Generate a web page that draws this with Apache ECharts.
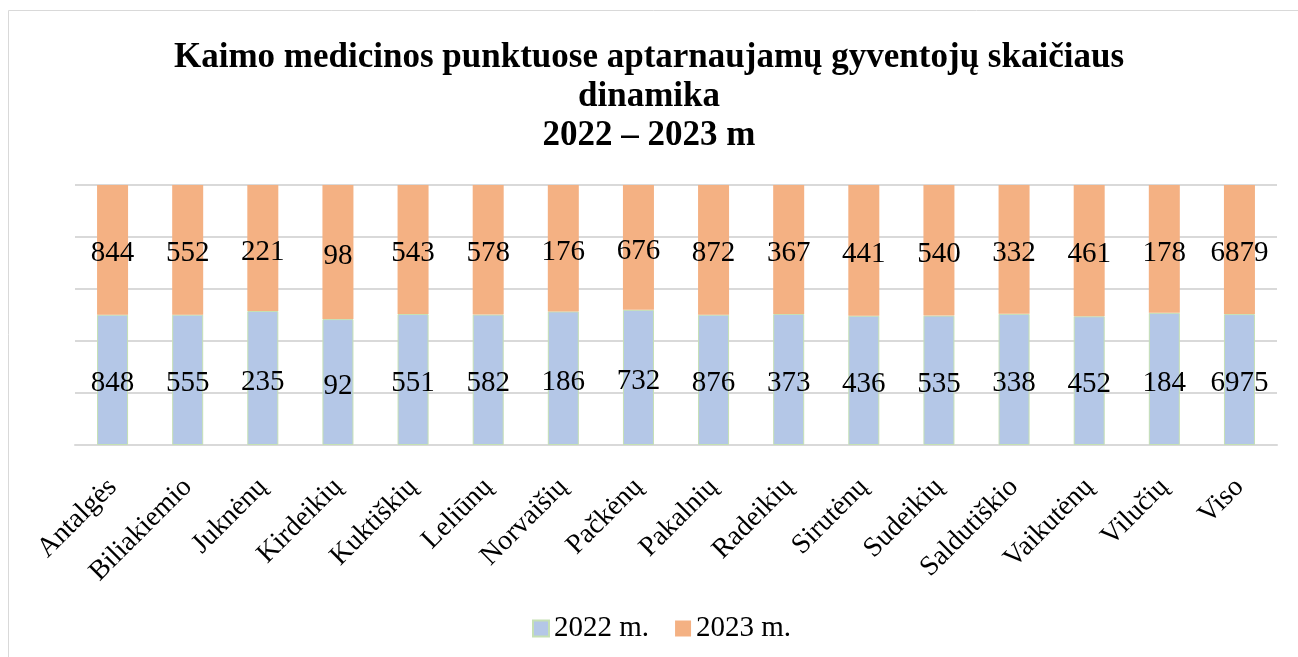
<!DOCTYPE html>
<html><head><meta charset="utf-8">
<script src="https://cdn.jsdelivr.net/npm/echarts@6/dist/echarts.min.js"></script>
<style>html,body{margin:0;padding:0;background:#fff}#c{width:1298px;height:657px}</style>
</head><body><div id="c"></div>
<script>
const categories = ["Antalgės","Biliakiemio","Juknėnų","Kirdeikių","Kuktiškių","Leliūnų","Norvaišių","Pačkėnų","Pakalnių","Radeikių","Sirutėnų","Sudeikių","Saldutiškio","Vaikutėnų","Vilučių","Viso"];
const values2022 = [848,555,235,92,551,582,186,732,876,373,436,535,338,452,184,6975];
const values2023 = [844,552,221,98,543,578,176,676,872,367,441,540,332,461,178,6879];
const yTicks = [0,20,40,60,80,100];

const share22 = values2022.map((v,i)=>v/(v+values2023[i])*100);
const share23 = values2023.map((v,i)=>v/(v+values2022[i])*100);
const serif = '"Liberation Serif","Times New Roman",serif';

const chart = echarts.init(document.getElementById('c'));
chart.setOption({
  animation:false,
  graphic:[{type:'rect',shape:{x:8.5,y:10.5,width:1400,height:800},style:{fill:'none',stroke:'#D9D9D9',lineWidth:1}}],
  title:{text:'Kaimo medicinos punktuose aptarnaujamų gyventojų skaičiaus\ndinamika\n2022 – 2023 m',left:'center',top:33,
    textStyle:{fontFamily:serif,fontWeight:'bold',fontSize:35,lineHeight:39,color:'#000'}},
  legend:{top:609,left:527,itemWidth:16,itemHeight:16,itemGap:26,
    textStyle:{fontFamily:serif,fontSize:29,color:'#000'},
    data:[{name:'2022 m.',icon:'rect'},{name:'2023 m.',icon:'rect'}]},
  grid:{left:75,right:21,top:185,bottom:212,containLabel:false},
  xAxis:{type:'category',data:categories,
    axisLine:{show:true,lineStyle:{color:'#D9D9D9',width:2}},axisTick:{show:false},
    axisLabel:{rotate:45,interval:0,margin:38,fontFamily:serif,fontSize:28,color:'#000'}},
  yAxis:{type:'value',min:yTicks[0],max:yTicks[yTicks.length-1],interval:20,
    axisLabel:{show:false},axisLine:{show:false},axisTick:{show:false},
    splitLine:{lineStyle:{color:'#D9D9D9',width:2}}},
  series:[
    {name:'2022 m.',type:'bar',stack:'a',data:share22,barWidth:31,
      itemStyle:{color:'#B4C7E7',borderColor:'#C5E0B4',borderWidth:1},
      label:{show:true,position:'inside',offset:[0,4],fontFamily:serif,fontSize:29,color:'#000',
        formatter:p=>values2022[p.dataIndex]}},
    {name:'2023 m.',type:'bar',stack:'a',data:share23,barWidth:31,
      itemStyle:{color:'#F4B183'},
      label:{show:true,position:'inside',offset:[0,4],fontFamily:serif,fontSize:29,color:'#000',
        formatter:p=>values2023[p.dataIndex]}}
  ]
});
</script></body></html>
